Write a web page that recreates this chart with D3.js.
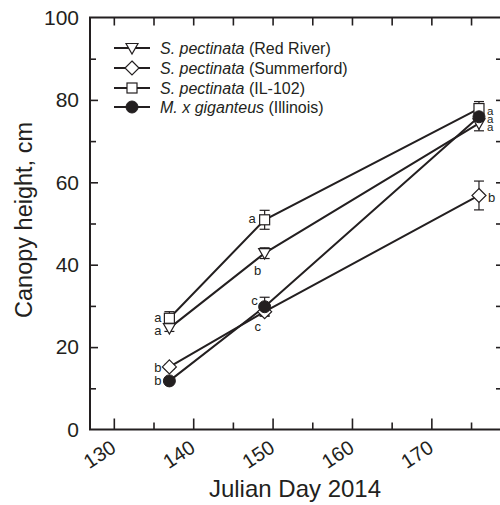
<!DOCTYPE html>
<html>
<head>
<meta charset="utf-8">
<script src="https://cdn.jsdelivr.net/npm/d3@7"></script>
<style>
  html, body { margin: 0; padding: 0; background: #fff; }
  svg { display: block; font-family: "Liberation Sans", Arial, sans-serif; }
</style>
</head>
<body>
<svg id="chart" width="500" height="505"></svg>
<script>
// Sampling dates (Julian day, 2014)
const days = [137, 149, 176];

// Mean canopy height (cm) per genotype at each date
const redRiver   = [24.6, 42.8, 74.3];
const summerford = [15.2, 28.6, 56.8];
const il102      = [27.0, 50.9, 77.9];
const giganteus  = [11.8, 29.8, 75.9];

// Standard errors
const redRiverSE   = [0.8, 1.3, 1.8];
const summerfordSE = [0.6, 1.0, 3.5];
const il102SE      = [1.6, 2.3, 1.7];
const giganteusSE  = [0.5, 2.3, 1.0];

// Mean-separation letters
const redRiverLetters   = ["a", "b", "a"];
const summerfordLetters = ["b", "c", "b"];
const il102Letters      = ["a", "a", "a"];
const giganteusLetters  = ["b", "c", "a"];

const xTicks = [130, 140, 150, 160, 170];
const yTicks = [0, 20, 40, 60, 80, 100];

const ink = "#231f20";

const series = [
  { name: "S. pectinata", site: "(Red River)",   symbol: "triDown", values: redRiver,   se: redRiverSE,   letters: redRiverLetters },
  { name: "S. pectinata", site: "(Summerford)",  symbol: "diamond", values: summerford, se: summerfordSE, letters: summerfordLetters },
  { name: "S. pectinata", site: "(IL-102)",      symbol: "square",  values: il102,      se: il102SE,      letters: il102Letters },
  { name: "M. x giganteus", site: "(Illinois)",  symbol: "circle",  values: giganteus,  se: giganteusSE,  letters: giganteusLetters }
];

// letter placement relative to each point: [dx, dy, anchor]
const letterPlacement = [
  [[-8, 2, "end"],  [-7, 17, "middle"], [8, 4, "start"]],
  [[-8, 1, "end"],  [-7, 15, "middle"], [9, 2, "start"]],
  [[-8, -1, "end"], [-9, -1, "end"],    [8, 2, "start"]],
  [[-8, 0, "end"],  [-7, -6, "end"],    [8, 2.5, "start"]]
];

const svg = d3.select("#chart");
const frame = { left: 90, right: 502, top: 17.5, bottom: 429.5 };

const x = d3.scaleLinear().domain([127, 178.9]).range([frame.left, frame.right]);
const y = d3.scaleLinear().domain([0, 100]).range([frame.bottom, frame.top]);

const axisG = svg.append("g");

const xMajor = d3.range(130, 180, 10);
const xMinor = d3.range(135, 180, 10);
const yMajor = d3.range(20, 100, 20);
const yMinor = d3.range(10, 100, 20);

function tickSet(g, axisGen) {
  g.call(axisGen);
  g.select(".domain").remove();
  g.selectAll("line").attr("stroke", ink).attr("stroke-width", 1.6);
}

// inward ticks on all four sides
axisG.append("g").attr("transform", `translate(0,${frame.bottom})`)
  .call(g => tickSet(g, d3.axisTop(x).tickValues(xMajor).tickSize(11).tickFormat("")));
axisG.append("g").attr("transform", `translate(0,${frame.bottom})`)
  .call(g => tickSet(g, d3.axisTop(x).tickValues(xMinor).tickSize(7).tickFormat("")));
axisG.append("g").attr("transform", `translate(0,${frame.top})`)
  .call(g => tickSet(g, d3.axisBottom(x).tickValues(d3.range(130, 180, 5)).tickSize(8).tickFormat("")));
axisG.append("g").attr("transform", `translate(${frame.left},0)`)
  .call(g => tickSet(g, d3.axisRight(y).tickValues(yMajor).tickSize(8).tickFormat("")));
axisG.append("g").attr("transform", `translate(${frame.left},0)`)
  .call(g => tickSet(g, d3.axisRight(y).tickValues(yMinor).tickSize(6).tickFormat("")));
axisG.append("g").attr("transform", `translate(${frame.right},0)`)
  .call(g => tickSet(g, d3.axisLeft(y).tickValues(d3.range(10, 100, 10)).tickSize(6).tickFormat("")));

svg.append("rect")
  .attr("x", frame.left).attr("y", frame.top)
  .attr("width", frame.right - frame.left).attr("height", frame.bottom - frame.top)
  .attr("fill", "none").attr("stroke", ink).attr("stroke-width", 2);

// tick labels
svg.append("g").selectAll("text").data(yTicks).join("text")
  .attr("x", 79).attr("y", d => y(d)).attr("dy", "0.35em")
  .attr("text-anchor", "end").attr("font-size", 21).attr("fill", ink)
  .text(d => d);

svg.append("g").selectAll("text").data(xTicks).join("text")
  .attr("transform", d => `translate(${x(d) + 3.5},451) rotate(-33)`)
  .attr("text-anchor", "end").attr("font-size", 20).attr("fill", ink)
  .text(d => d);

// axis titles
svg.append("text")
  .attr("transform", `translate(32,220) rotate(-90)`)
  .attr("text-anchor", "middle").attr("font-size", 23.5).attr("fill", ink)
  .text("Canopy height, cm");

svg.append("text")
  .attr("x", 295).attr("y", 497)
  .attr("text-anchor", "middle").attr("font-size", 24).attr("fill", ink)
  .text("Julian Day 2014");

function drawSymbol(g, type, cx, cy) {
  if (type === "circle") {
    g.append("circle").attr("cx", cx).attr("cy", cy).attr("r", 6)
      .attr("fill", ink).attr("stroke", ink);
  } else if (type === "square") {
    g.append("rect").attr("x", cx - 5).attr("y", cy - 5).attr("width", 10).attr("height", 10)
      .attr("fill", "#fff").attr("stroke", ink).attr("stroke-width", 1.2);
  } else if (type === "diamond") {
    g.append("path").attr("d", `M${cx},${cy - 7}L${cx + 7},${cy}L${cx},${cy + 7}L${cx - 7},${cy}Z`)
      .attr("fill", "#fff").attr("stroke", ink).attr("stroke-width", 1.2);
  } else if (type === "triDown") {
    g.append("path").attr("d", `M${cx - 6},${cy - 4.5}L${cx + 6},${cy - 4.5}L${cx},${cy + 6}Z`)
      .attr("fill", "#fff").attr("stroke", ink).attr("stroke-width", 1.2);
  }
}

const line = d3.line().x((d, i) => x(days[i])).y(d => y(d));
const plot = svg.append("g");

series.forEach(s => {
  plot.append("path").datum(s.values)
    .attr("d", line).attr("fill", "none")
    .attr("stroke", ink).attr("stroke-width", 2);
});

// error bars
series.forEach(s => {
  s.values.forEach((v, i) => {
    const cx = x(days[i]);
    const y0 = y(v - s.se[i]), y1 = y(v + s.se[i]);
    const eb = plot.append("g").attr("stroke", ink).attr("stroke-width", 1.2);
    eb.append("line").attr("x1", cx).attr("x2", cx).attr("y1", y0).attr("y2", y1);
    eb.append("line").attr("x1", cx - 5).attr("x2", cx + 5).attr("y1", y0).attr("y2", y0);
    eb.append("line").attr("x1", cx - 5).attr("x2", cx + 5).attr("y1", y1).attr("y2", y1);
  });
});

series.forEach(s => {
  s.values.forEach((v, i) => drawSymbol(plot, s.symbol, x(days[i]), y(v)));
});

// significance letters
series.forEach((s, si) => {
  s.values.forEach((v, i) => {
    const [dx, dy, anchor] = letterPlacement[si][i];
    plot.append("text")
      .attr("x", x(days[i]) + dx).attr("y", y(v) + dy).attr("dy", "0.35em")
      .attr("text-anchor", anchor)
      .attr("font-size", i === 2 && si !== 1 ? 11.5 : 13).attr("fill", ink)
      .text(s.letters[i]);
  });
});

// legend
const legend = svg.append("g");
const legendRows = [48, 68, 88, 107];
series.forEach((s, i) => {
  const ly = legendRows[i];
  legend.append("line").attr("x1", 114).attr("x2", 150).attr("y1", ly).attr("y2", ly)
    .attr("stroke", ink).attr("stroke-width", 2);
  drawSymbol(legend, s.symbol, 132, ly);
  const t = legend.append("text").attr("x", 160).attr("y", ly).attr("dy", "0.35em")
    .attr("font-size", 16).attr("fill", ink);
  t.append("tspan").attr("font-style", "italic").text(s.name);
  t.append("tspan").text(" " + s.site);
});
</script>
</body>
</html>
